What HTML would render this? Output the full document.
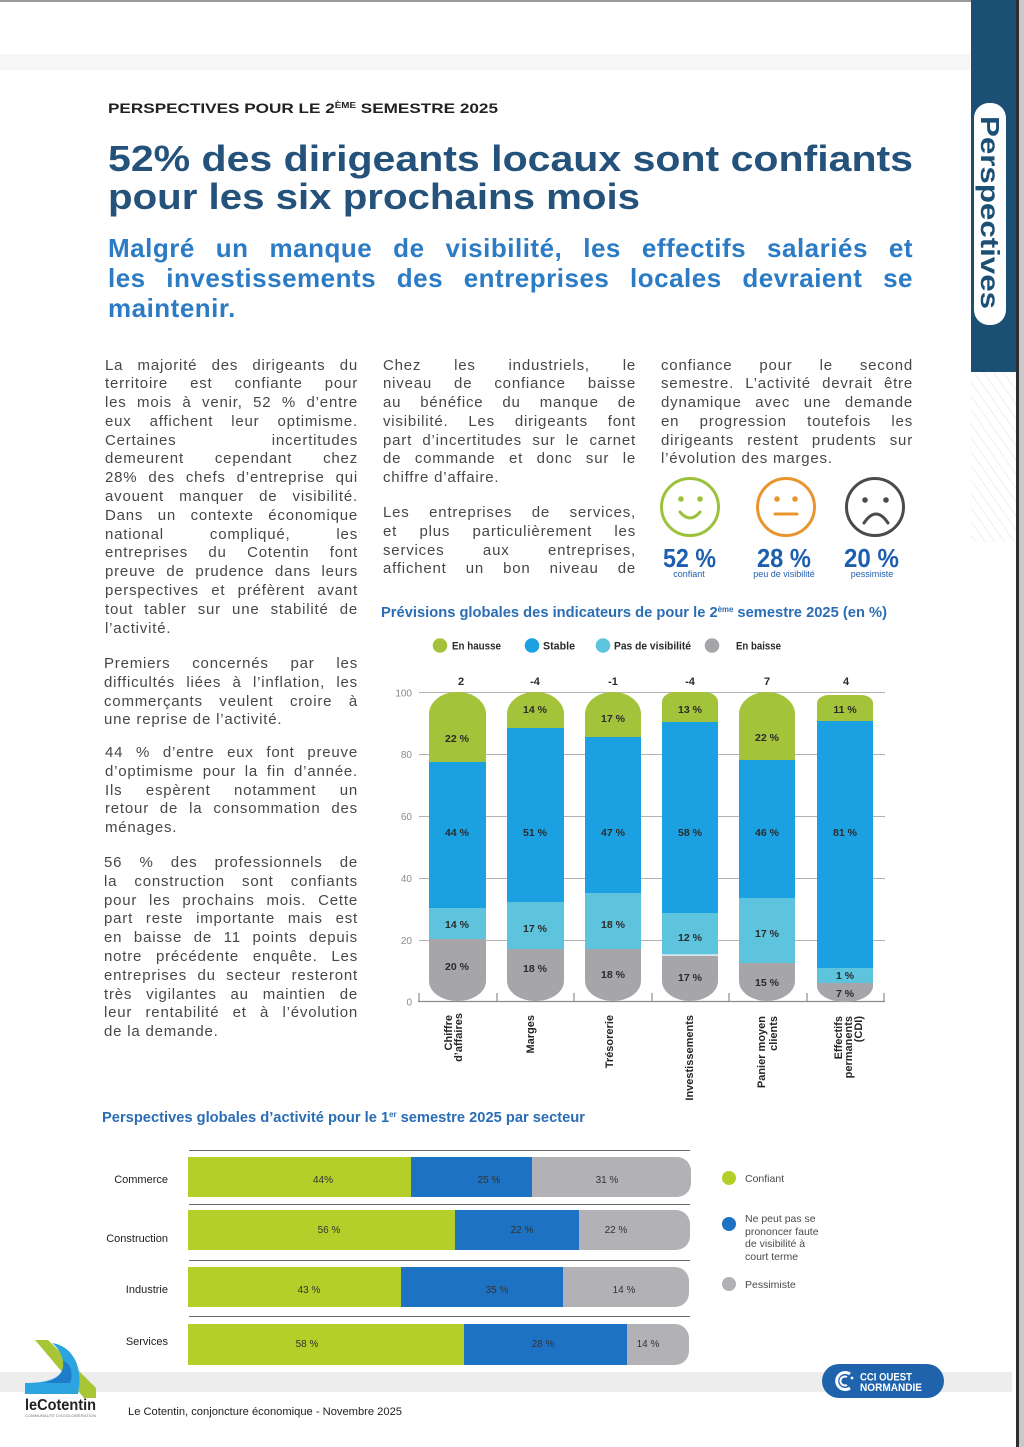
<!DOCTYPE html>
<html lang="fr">
<head>
<meta charset="utf-8">
<style>
html,body{margin:0;padding:0;background:#fff;}
#pg{position:relative;width:1024px;height:1447px;overflow:hidden;background:#fff;font-family:"Liberation Sans",sans-serif;}
#pg svg{position:absolute;left:0;top:0;}
.p{position:absolute;font-size:15px;line-height:18.8px;color:#474747;text-align:justify;letter-spacing:0.8px;}
.p .l{display:block;text-align:justify;text-align-last:justify;white-space:normal;}
.p .e{display:block;text-align:left;text-align-last:left;}
.sub{position:absolute;left:108px;top:233px;width:805px;font-size:26px;line-height:30px;font-weight:bold;color:#2b7bc5;letter-spacing:0.5px;}
.sub .l{display:block;text-align:justify;text-align-last:justify;}
.sub .e{display:block;text-align:left;}
</style>
</head>
<body>
<div id="pg">
<svg width="1024" height="1447" viewBox="0 0 1024 1447" xmlns="http://www.w3.org/2000/svg" font-family="Liberation Sans, sans-serif">
  <defs>
    <pattern id="hatch" width="8" height="8" patternUnits="userSpaceOnUse" patternTransform="rotate(-35)">
      <line x1="0" y1="0" x2="0" y2="8" stroke="#dedede" stroke-width="1"/>
    </pattern>
    <clipPath id="b1"><path d="M429,714 A28,22 0 0 1 457,692 L458,692 A28,22 0 0 1 486,714 L486,981 A28,20 0 0 1 458,1001 L457,1001 A28,20 0 0 1 429,981 Z"/></clipPath>
    <clipPath id="b2"><path d="M507,714 A28,22 0 0 1 535,692 L536,692 A28,22 0 0 1 564,714 L564,981 A28,20 0 0 1 536,1001 L535,1001 A28,20 0 0 1 507,981 Z"/></clipPath>
    <clipPath id="b3"><path d="M585,714 A28,22 0 0 1 613,692 A28,22 0 0 1 641,714 L641,981 A28,20 0 0 1 613,1001 A28,20 0 0 1 585,981 Z"/></clipPath>
    <clipPath id="b4"><path d="M662,702 A14,10 0 0 1 676,692 L704,692 A14,10 0 0 1 718,702 L718,981 A28,20 0 0 1 690,1001 A28,20 0 0 1 662,981 Z"/></clipPath>
    <clipPath id="b5"><path d="M739,714 A28,22 0 0 1 767,692 A28,22 0 0 1 795,714 L795,981 A28,20 0 0 1 767,1001 A28,20 0 0 1 739,981 Z"/></clipPath>
    <clipPath id="b6"><path d="M817,703 A12,8 0 0 1 829,695 L861,695 A12,8 0 0 1 873,703 L873,986 A28,16 0 0 1 845,1002 A28,16 0 0 1 817,986 Z"/></clipPath>
    <clipPath id="h1"><path d="M188,1157 L677,1157 A14,14 0 0 1 691,1171 L691,1183 A14,14 0 0 1 677,1197 L188,1197 Z"/></clipPath>
    <clipPath id="h2"><path d="M188,1210 L676,1210 A14,14 0 0 1 690,1224 L690,1236 A14,14 0 0 1 676,1250 L188,1250 Z"/></clipPath>
    <clipPath id="h3"><path d="M188,1267 L675,1267 A14,14 0 0 1 689,1281 L689,1293 A14,14 0 0 1 675,1307 L188,1307 Z"/></clipPath>
    <clipPath id="h4"><path d="M188,1324 L675,1324 A14,14 0 0 1 689,1338 L689,1351 A14,14 0 0 1 675,1365 L188,1365 Z"/></clipPath>
  </defs>

  <!-- scan artifacts -->
  <rect x="0" y="0" width="1016" height="2" fill="#9a9a9a"/>
  <rect x="0" y="54" width="970" height="16" fill="#f6f6f6"/>
  <rect x="0" y="1372" width="1012" height="20" fill="#ededed"/>
  <rect x="1016" y="0" width="3" height="1447" fill="#2e2e2e"/>
  <rect x="1019" y="0" width="5" height="1447" fill="#c9c9c9"/>

  <!-- right tab -->
  <rect x="971" y="0" width="45" height="372" fill="#1c4f74"/>
  <rect x="971" y="372" width="45" height="170" fill="url(#hatch)"/>
  <rect x="974" y="103" width="32" height="222" rx="15" fill="#fff"/>
  <text transform="translate(981,116) rotate(90)" font-size="26" font-weight="bold" fill="#1c4f74" textLength="193" lengthAdjust="spacingAndGlyphs">Perspectives</text>

  <!-- header -->
  <text x="108" y="113" font-size="14" font-weight="bold" fill="#222" textLength="390" lengthAdjust="spacingAndGlyphs">PERSPECTIVES POUR LE 2<tspan font-size="8" dy="-5">ÈME</tspan><tspan font-size="14" dy="5"> SEMESTRE 2025</tspan></text>
  <text x="108" y="171" font-size="36" font-weight="bold" fill="#24527b" textLength="805" lengthAdjust="spacingAndGlyphs">52% des dirigeants locaux sont confiants</text>
  <text x="108" y="209" font-size="36" font-weight="bold" fill="#24527b" textLength="532" lengthAdjust="spacingAndGlyphs">pour les six prochains mois</text>

  <!-- smileys -->
  <g fill="none" stroke-width="3" stroke-linecap="round">
    <circle cx="690" cy="507" r="28.5" stroke="#9cc13a"/>
    <path d="M680,512 Q690,524 700,512" stroke="#9cc13a"/>
    <circle cx="786" cy="507" r="28.5" stroke="#e9952d"/>
    <path d="M775,514 L797,514" stroke="#e9952d"/>
    <circle cx="875" cy="507" r="28.5" stroke="#4b4b4b"/>
    <path d="M864,523 Q876,505 888,523" stroke="#4b4b4b"/>
  </g>
  <circle cx="681" cy="499" r="2.8" fill="#9cc13a"/><circle cx="700" cy="499" r="2.8" fill="#9cc13a"/>
  <circle cx="777" cy="499" r="2.8" fill="#e9952d"/><circle cx="795" cy="499" r="2.8" fill="#e9952d"/>
  <circle cx="865" cy="500" r="2.8" fill="#4b4b4b"/><circle cx="886" cy="500" r="2.8" fill="#4b4b4b"/>
  <g fill="#1d5faf" font-weight="bold" text-anchor="middle">
    <text x="689.5" y="567" font-size="26" textLength="53" lengthAdjust="spacingAndGlyphs">52 %</text>
    <text x="784" y="567" font-size="26" textLength="54" lengthAdjust="spacingAndGlyphs">28 %</text>
    <text x="871.5" y="567" font-size="26" textLength="55" lengthAdjust="spacingAndGlyphs">20 %</text>
  </g>
  <g fill="#1d5faf" font-size="9" text-anchor="middle">
    <text x="689" y="577">confiant</text>
    <text x="784" y="577">peu de visibilité</text>
    <text x="872" y="577">pessimiste</text>
  </g>

  <!-- chart 1 -->
  <text x="381" y="617" font-size="15" font-weight="bold" fill="#2a6db5" textLength="506" lengthAdjust="spacingAndGlyphs">Prévisions globales des indicateurs de pour le 2<tspan font-size="8" dy="-5">ème</tspan><tspan font-size="15" dy="5"> semestre 2025 (en %)</tspan></text>
  <circle cx="440" cy="645.5" r="7.3" fill="#a3c43a"/>
  <circle cx="532" cy="645.5" r="7.3" fill="#1ba1e2"/>
  <circle cx="603" cy="645.5" r="7.3" fill="#5ec4dd"/>
  <circle cx="712" cy="645.5" r="7.3" fill="#a6a6aa"/>
  <g font-size="11" font-weight="bold" fill="#2a2a2a">
    <text x="452" y="649.5" textLength="49" lengthAdjust="spacingAndGlyphs">En hausse</text>
    <text x="543" y="649.5" textLength="32" lengthAdjust="spacingAndGlyphs">Stable</text>
    <text x="614" y="649.5" textLength="77" lengthAdjust="spacingAndGlyphs">Pas de visibilité</text>
    <text x="736" y="649.5" textLength="45" lengthAdjust="spacingAndGlyphs">En baisse</text>
  </g>
  <g font-size="11" font-weight="bold" fill="#2a2a2a" text-anchor="middle">
    <text x="461" y="685">2</text>
    <text x="535" y="685">-4</text>
    <text x="613" y="685">-1</text>
    <text x="690" y="685">-4</text>
    <text x="767" y="685">7</text>
    <text x="846" y="685">4</text>
  </g>
  <g font-size="10" fill="#8a8a8a" text-anchor="end">
    <text x="412" y="696.5">100</text>
    <text x="412" y="758">80</text>
    <text x="412" y="820">60</text>
    <text x="412" y="882">40</text>
    <text x="412" y="944">20</text>
    <text x="412" y="1005.5">0</text>
  </g>
  <g stroke="#b3b3b3" stroke-width="1">
    <line x1="419" y1="692.5" x2="885" y2="692.5"/>
    <line x1="419" y1="754.5" x2="885" y2="754.5"/>
    <line x1="419" y1="816.5" x2="885" y2="816.5"/>
    <line x1="419" y1="878.5" x2="885" y2="878.5"/>
    <line x1="419" y1="940.5" x2="885" y2="940.5"/>
  </g>
  <g stroke="#8c8c8c" stroke-width="1.2">
    <line x1="418" y1="1001.5" x2="885" y2="1001.5"/>
    <line x1="419" y1="993" x2="419" y2="1001"/>
    <line x1="497" y1="993" x2="497" y2="1001"/>
    <line x1="574" y1="993" x2="574" y2="1001"/>
    <line x1="652" y1="993" x2="652" y2="1001"/>
    <line x1="729" y1="993" x2="729" y2="1001"/>
    <line x1="807" y1="993" x2="807" y2="1001"/>
    <line x1="884" y1="993" x2="884" y2="1001"/>
  </g>
  <g clip-path="url(#b1)">
    <rect x="429" y="690" width="57" height="72" fill="#a3c43a"/>
    <rect x="429" y="762" width="57" height="146" fill="#1ba1e2"/>
    <rect x="429" y="908" width="57" height="31" fill="#5ec4dd"/>
    <rect x="429" y="939" width="57" height="64" fill="#a6a6aa"/>
  </g>
  <g clip-path="url(#b2)">
    <rect x="507" y="690" width="57" height="38" fill="#a3c43a"/>
    <rect x="507" y="728" width="57" height="174" fill="#1ba1e2"/>
    <rect x="507" y="902" width="57" height="47" fill="#5ec4dd"/>
    <rect x="507" y="949" width="57" height="54" fill="#a6a6aa"/>
  </g>
  <g clip-path="url(#b3)">
    <rect x="585" y="690" width="56" height="47" fill="#a3c43a"/>
    <rect x="585" y="737" width="56" height="156" fill="#1ba1e2"/>
    <rect x="585" y="893" width="56" height="56" fill="#5ec4dd"/>
    <rect x="585" y="949" width="56" height="54" fill="#a6a6aa"/>
  </g>
  <g clip-path="url(#b4)">
    <rect x="662" y="690" width="56" height="32" fill="#a3c43a"/>
    <rect x="662" y="722" width="56" height="191" fill="#1ba1e2"/>
    <rect x="662" y="913" width="56" height="42" fill="#5ec4dd"/>
    <rect x="662" y="955" width="56" height="48" fill="#a6a6aa"/>
    <rect x="662" y="954.5" width="56" height="1.2" fill="#fff"/>
  </g>
  <g clip-path="url(#b5)">
    <rect x="739" y="690" width="56" height="70" fill="#a3c43a"/>
    <rect x="739" y="760" width="56" height="138" fill="#1ba1e2"/>
    <rect x="739" y="898" width="56" height="65" fill="#5ec4dd"/>
    <rect x="739" y="963" width="56" height="41" fill="#a6a6aa"/>
  </g>
  <g clip-path="url(#b6)">
    <rect x="817" y="693" width="56" height="28" fill="#a3c43a"/>
    <rect x="817" y="721" width="56" height="247" fill="#1ba1e2"/>
    <rect x="817" y="968" width="56" height="15" fill="#5ec4dd"/>
    <rect x="817" y="983" width="56" height="21" fill="#a6a6aa"/>
  </g>
  <g font-size="10.5" font-weight="bold" fill="#2b2b2b" text-anchor="middle">
    <text x="457" y="742">22 %</text><text x="457" y="836">44 %</text><text x="457" y="928">14 %</text><text x="457" y="970">20 %</text>
    <text x="535" y="713">14 %</text><text x="535" y="836">51 %</text><text x="535" y="932">17 %</text><text x="535" y="972">18 %</text>
    <text x="613" y="722">17 %</text><text x="613" y="836">47 %</text><text x="613" y="928">18 %</text><text x="613" y="978">18 %</text>
    <text x="690" y="713">13 %</text><text x="690" y="836">58 %</text><text x="690" y="941">12 %</text><text x="690" y="981">17 %</text>
    <text x="767" y="741">22 %</text><text x="767" y="836">46 %</text><text x="767" y="937">17 %</text><text x="767" y="986">15 %</text>
    <text x="845" y="713">11 %</text><text x="845" y="836">81 %</text><text x="845" y="979">1 %</text><text x="845" y="997">7 %</text>
  </g>
  <g font-size="11" font-weight="bold" fill="#262626" text-anchor="end">
    <text transform="translate(452,1015) rotate(-90)">Chiffre</text>
    <text transform="translate(462,1013) rotate(-90)">d’affaires</text>
    <text transform="translate(534,1015) rotate(-90)">Marges</text>
    <text transform="translate(613,1015) rotate(-90)">Trésorerie</text>
    <text transform="translate(693,1015) rotate(-90)">Investissements</text>
    <text transform="translate(765,1016) rotate(-90)">Panier moyen</text>
    <text transform="translate(777,1016) rotate(-90)">clients</text>
    <text transform="translate(842,1016) rotate(-90)">Effectifs</text>
    <text transform="translate(852,1016) rotate(-90)">permanents</text>
    <text transform="translate(862,1016) rotate(-90)">(CDI)</text>
  </g>

  <!-- chart 2 -->
  <text x="102" y="1122" font-size="15" font-weight="bold" fill="#2a6db5" textLength="483" lengthAdjust="spacingAndGlyphs">Perspectives globales d’activité pour le 1<tspan font-size="8" dy="-5">er</tspan><tspan font-size="15" dy="5"> semestre 2025 par secteur</tspan></text>
  <g stroke="#6a6a6a" stroke-width="1">
    <line x1="189" y1="1150.5" x2="690" y2="1150.5"/>
    <line x1="189" y1="1204.5" x2="690" y2="1204.5"/>
    <line x1="189" y1="1260.5" x2="690" y2="1260.5"/>
    <line x1="189" y1="1316.5" x2="690" y2="1316.5"/>
  </g>
  <g clip-path="url(#h1)">
    <rect x="188" y="1157" width="223" height="40" fill="#b4cf2a"/>
    <rect x="411" y="1157" width="121" height="40" fill="#1d72c4"/>
    <rect x="532" y="1157" width="160" height="40" fill="#b2b2b6"/>
  </g>
  <g clip-path="url(#h2)">
    <rect x="188" y="1210" width="267" height="40" fill="#b4cf2a"/>
    <rect x="455" y="1210" width="124" height="40" fill="#1d72c4"/>
    <rect x="579" y="1210" width="112" height="40" fill="#b2b2b6"/>
  </g>
  <g clip-path="url(#h3)">
    <rect x="188" y="1267" width="213" height="40" fill="#b4cf2a"/>
    <rect x="401" y="1267" width="162" height="40" fill="#1d72c4"/>
    <rect x="563" y="1267" width="127" height="40" fill="#b2b2b6"/>
  </g>
  <g clip-path="url(#h4)">
    <rect x="188" y="1324" width="276" height="41" fill="#b4cf2a"/>
    <rect x="464" y="1324" width="163" height="41" fill="#1d72c4"/>
    <rect x="627" y="1324" width="63" height="41" fill="#b2b2b6"/>
  </g>
  <g font-size="10" fill="#333" text-anchor="middle">
    <text x="323" y="1183">44%</text><text x="489" y="1183">25 %</text><text x="607" y="1183">31 %</text>
    <text x="329" y="1233">56 %</text><text x="522" y="1233">22 %</text><text x="616" y="1233">22 %</text>
    <text x="309" y="1293">43 %</text><text x="497" y="1293">35 %</text><text x="624" y="1293">14 %</text>
    <text x="307" y="1347">58 %</text><text x="543" y="1347">28 %</text><text x="648" y="1347">14 %</text>
  </g>
  <g font-size="11" fill="#1e1e1e" text-anchor="end">
    <text x="168" y="1183">Commerce</text>
    <text x="168" y="1242">Construction</text>
    <text x="168" y="1293">Industrie</text>
    <text x="168" y="1345">Services</text>
  </g>
  <circle cx="729" cy="1178" r="7" fill="#b4cf2a"/>
  <circle cx="729" cy="1224" r="7" fill="#1d72c4"/>
  <circle cx="729" cy="1284" r="7" fill="#b2b2b6"/>
  <g font-size="10.5" fill="#4a4a4a">
    <text x="745" y="1182">Confiant</text>
    <text x="745" y="1222">Ne peut pas se</text>
    <text x="745" y="1235">prononcer faute</text>
    <text x="745" y="1247">de visibilité à</text>
    <text x="745" y="1260">court terme</text>
    <text x="745" y="1288">Pessimiste</text>
  </g>

  <!-- CCI logo -->
  <rect x="822" y="1364" width="122" height="34" rx="17" fill="#1f63ad"/>
  <path d="M850,1374 A8.5,8.5 0 1 0 850,1388" fill="none" stroke="#fff" stroke-width="3"/>
  <path d="M847,1377 A4.5,4.5 0 1 0 847,1385" fill="none" stroke="#fff" stroke-width="2"/>
  <circle cx="852" cy="1378" r="1.4" fill="#fff"/>
  <g font-size="11" font-weight="bold" fill="#fff">
    <text x="860" y="1380.5" textLength="52" lengthAdjust="spacingAndGlyphs">CCI OUEST</text>
    <text x="860" y="1391" textLength="62" lengthAdjust="spacingAndGlyphs">NORMANDIE</text>
  </g>

  <!-- leCotentin logo -->
  <polygon points="35,1340 48,1340 96,1388 96,1398 84,1398" fill="#a8c536"/>
  <path d="M52,1343 C72,1346 84,1366 78,1394 L25,1394 L25,1383 C48,1383 66,1378 63,1361 C61,1352 57,1347 52,1343 Z" fill="#2ba4e0"/>
  <path d="M63,1361 C66,1378 48,1383 40,1383 L70,1383 C74,1372 70,1363 63,1361 Z" fill="#1f7cc8"/>
  <text x="25" y="1410" font-size="15.5" font-weight="bold" fill="#222" textLength="71" lengthAdjust="spacingAndGlyphs">leCotentin</text>
  <text x="25" y="1417" font-size="4" fill="#777" textLength="71" lengthAdjust="spacingAndGlyphs">COMMUNAUTÉ D'AGGLOMÉRATION</text>

  <!-- footer -->
  <text x="128" y="1415" font-size="11" fill="#222" textLength="274" lengthAdjust="spacingAndGlyphs">Le Cotentin, conjoncture économique - Novembre 2025</text>
</svg>

<div class="sub">
<span class="l">Malgré un manque de visibilité, les effectifs salariés et</span>
<span class="l">les investissements des entreprises locales devraient se</span>
<span class="e">maintenir.</span>
</div>

<div class="p" style="left:105px;top:356.5px;width:253px">
<span class="l">La majorité des dirigeants du</span>
<span class="l">territoire est confiante pour</span>
<span class="l">les mois à venir, 52 % d’entre</span>
<span class="l">eux affichent leur optimisme.</span>
<span class="l">Certaines incertitudes</span>
<span class="l">demeurent cependant chez</span>
<span class="l">28% des chefs d’entreprise qui</span>
<span class="l">avouent manquer de visibilité.</span>
<span class="l">Dans un contexte économique</span>
<span class="l">national compliqué, les</span>
<span class="l">entreprises du Cotentin font</span>
<span class="l">preuve de prudence dans leurs</span>
<span class="l">perspectives et préfèrent avant</span>
<span class="l">tout tabler sur une stabilité de</span>
<span class="e">l’activité.</span>
</div>

<div class="p" style="left:104px;top:655px;width:254px">
<span class="l">Premiers concernés par les</span>
<span class="l">difficultés liées à l’inflation, les</span>
<span class="l">commerçants veulent croire à</span>
<span class="e">une reprise de l’activité.</span>
</div>

<div class="p" style="left:105px;top:744px;width:253px">
<span class="l">44 % d’entre eux font preuve</span>
<span class="l">d’optimisme pour la fin d’année.</span>
<span class="l">Ils espèrent notamment un</span>
<span class="l">retour de la consommation des</span>
<span class="e">ménages.</span>
</div>

<div class="p" style="left:104px;top:854px;width:254px">
<span class="l">56 % des professionnels de</span>
<span class="l">la construction sont confiants</span>
<span class="l">pour les prochains mois. Cette</span>
<span class="l">part reste importante mais est</span>
<span class="l">en baisse de 11 points depuis</span>
<span class="l">notre précédente enquête. Les</span>
<span class="l">entreprises du secteur resteront</span>
<span class="l">très vigilantes au maintien de</span>
<span class="l">leur rentabilité et à l’évolution</span>
<span class="e">de la demande.</span>
</div>

<div class="p" style="left:383px;top:356.5px;width:253px">
<span class="l">Chez les industriels, le</span>
<span class="l">niveau de confiance baisse</span>
<span class="l">au bénéfice du manque de</span>
<span class="l">visibilité. Les dirigeants font</span>
<span class="l">part d’incertitudes sur le carnet</span>
<span class="l">de commande et donc sur le</span>
<span class="e">chiffre d’affaire.</span>
</div>

<div class="p" style="left:383px;top:504px;width:253px">
<span class="l">Les entreprises de services,</span>
<span class="l">et plus particulièrement les</span>
<span class="l">services aux entreprises,</span>
<span class="l">affichent un bon niveau de</span>
</div>

<div class="p" style="left:661px;top:356.5px;width:252px">
<span class="l">confiance pour le second</span>
<span class="l">semestre. L’activité devrait être</span>
<span class="l">dynamique avec une demande</span>
<span class="l">en progression toutefois les</span>
<span class="l">dirigeants restent prudents sur</span>
<span class="e">l’évolution des marges.</span>
</div>
</div>
</body>
</html>
